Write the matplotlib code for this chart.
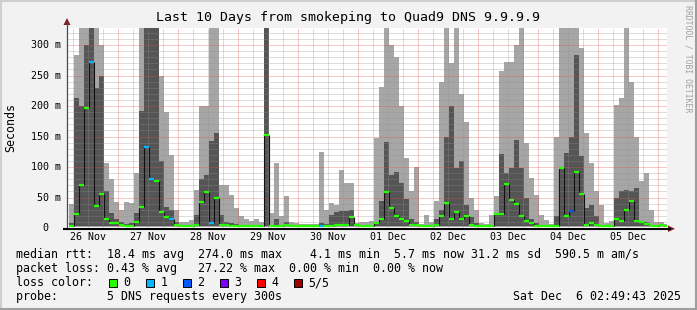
import numpy as np
import matplotlib.pyplot as plt
from matplotlib.patches import Rectangle, Polygon
from matplotlib.lines import Line2D

plt.rcParams['font.family'] = ['DejaVu Sans Mono']

W, H = 697, 310

# 2-hour bins from 26 Nov 02:49 to 06 Dec 02:49, values in ms (one row per day)
smoke_max = [
    40, 283, 340, 340, 340, 340, 300, 107, 80, 42, 30, 42,
    41, 90, 340, 340, 340, 340, 250, 190, 120, 30, 10, 10,
    13, 62, 200, 200, 340, 340, 70, 70, 54, 33, 20, 15,
    12, 15, 10, 340, 25, 107, 20, 52, 10, 8, 6, 6,
    6, 6, 124, 30, 41, 38, 95, 74, 74, 8, 10, 10,
    11, 147, 231, 340, 300, 280, 200, 115, 60, 100, 6, 22,
    10, 44, 240, 340, 270, 340, 220, 174, 49, 30, 8, 6,
    22, 52, 257, 273, 272, 300, 340, 139, 82, 54, 22, 13,
    6, 150, 340, 340, 340, 340, 295, 155, 106, 60, 37, 8,
    12, 201, 213, 340, 240, 150, 77, 90, 29, 10, 10, 6,
]
smoke_core = [
    8, 213, 200, 300, 340, 230, 250, 60, 25, 15, 10, 6,
    8, 25, 192, 340, 340, 340, 110, 34, 30, 10, 5, 5,
    5, 22, 80, 87, 142, 155, 22, 10, 8, 6, 5, 5,
    5, 5, 5, 340, 5, 14, 5, 10, 5, 5, 4, 4,
    4, 4, 8, 6, 22, 27, 28, 28, 29, 5, 5, 5,
    5, 10, 44, 141, 87, 92, 74, 48, 15, 10, 4, 5,
    5, 15, 30, 150, 200, 98, 110, 37, 18, 8, 5, 4,
    5, 24, 121, 90, 98, 144, 98, 49, 15, 8, 5, 5,
    4, 20, 98, 123, 150, 283, 118, 33, 37, 20, 5, 4,
    5, 50, 60, 62, 60, 65, 10, 10, 5, 5, 5, 4,
]
median_rtt = [
    4, 23, 70, 197, 273, 36, 55, 15, 8, 8, 5, 4,
    4, 10, 34, 133, 80, 77, 27, 18, 15, 5, 4, 4,
    4, 5, 43, 59, 8, 49, 5, 5, 4, 4, 4, 4,
    4, 4, 4, 152, 4, 4, 4, 5, 4, 4, 4, 4,
    4, 4, 3, 4, 4, 5, 5, 5, 18, 5, 4, 4,
    4, 8, 15, 59, 33, 20, 15, 11, 5, 5, 4, 4,
    4, 5, 20, 41, 15, 27, 15, 20, 5, 4, 4, 4,
    4, 23, 23, 72, 46, 39, 20, 11, 8, 4, 4, 4,
    4, 4, 98, 20, 28, 92, 56, 5, 8, 5, 4, 4,
    4, 15, 11, 29, 44, 11, 10, 6, 4, 4, 5, 4,
]
loss_pings = [
    0, 0, 0, 0, 1, 0, 0, 0, 0, 0, 0, 0,
    0, 0, 0, 1, 1, 0, 0, 0, 1, 0, 0, 0,
    0, 0, 0, 0, 1, 0, 0, 0, 0, 0, 0, 0,
    0, 0, 0, 0, 0, 0, 0, 0, 0, 0, 0, 0,
    0, 0, 1, 0, 0, 0, 0, 0, 0, 0, 0, 0,
    0, 0, 0, 0, 0, 0, 0, 0, 0, 0, 0, 0,
    0, 0, 0, 0, 0, 0, 0, 0, 0, 0, 0, 0,
    0, 0, 0, 0, 0, 0, 0, 0, 0, 0, 0, 0,
    0, 0, 0, 0, 2, 0, 0, 0, 0, 0, 0, 0,
    0, 0, 0, 0, 0, 0, 0, 0, 0, 0, 0, 0,
]

day_labels = ["26 Nov", "27 Nov", "28 Nov", "29 Nov", "30 Nov",
              "01 Dec", "02 Dec", "03 Dec", "04 Dec", "05 Dec"]
y_ticks = [0, 50, 100, 150, 200, 250, 300]
y_tick_labels = ["0  ", "50 m", "100 m", "150 m", "200 m", "250 m", "300 m"]

loss_colors = ["#26ff00", "#00b8ff", "#0059ff", "#7e00ff", "#ff0000", "#a10000"]
loss_names = ["0", "1", "2", "3", "4", "5/5"]

stats_rows = [
    "median rtt:  18.4 ms avg  274.0 ms max    4.1 ms min  5.7 ms now 31.2 ms sd  590.5 m am/s",
    "packet loss: 0.43 % avg   27.22 % max  0.00 % min  0.00 % now",
]
probe_text = "probe:       5 DNS requests every 300s"
stamp_text = "Sat Dec  6 02:49:43 2025"

# plot geometry in pixels
X0, X1, Y0, Y1 = 67, 667, 228, 28
T_SPAN = 240.0
Y_MAX = 328.0


def fx(x):
    return x / W


def fy(y):
    return 1 - y / H


fig = plt.figure(figsize=(W / 100, H / 100), dpi=100, facecolor="#f2f2f2")
ax = fig.add_axes([fx(X0), fy(Y0), (X1 - X0) / W, (Y0 - Y1) / H])
ax.set_facecolor("white")
for s in ax.spines.values():
    s.set_visible(False)
ax.tick_params(length=0, labelbottom=False, labelleft=False)
ax.set_xlim(0, T_SPAN)
ax.set_ylim(0, Y_MAX)

t = 0.8 + 2 * np.arange(len(smoke_max))

# smoke
ax.bar(t, np.array(smoke_max) - 2, bottom=2, width=2, align="edge",
       color="#a6a6a6", linewidth=0, zorder=1)
ax.bar(t, np.array(smoke_core) - 3, bottom=3, width=2, align="edge",
       color="#555555", linewidth=0, zorder=2)

# grid (drawn over the smoke, like rrdtool)
minor_t = np.arange(2.5, T_SPAN, 6)
major_t = np.arange(20.5, T_SPAN, 24)
for x in minor_t:
    if not np.any(np.isclose(major_t, x)):
        ax.axvline(x, color="#8f8f8f", alpha=0.6, lw=0.72, ls=(0, (1, 1)), zorder=3)
for y in range(10, int(Y_MAX), 10):
    if y % 50:
        ax.axhline(y, color="#8f8f8f", alpha=0.6, lw=0.72, ls=(0, (1, 1)), zorder=3)
for x in major_t:
    ax.axvline(x, color="#de4f4f", alpha=0.6, lw=0.72, ls=(0, (1, 1)), zorder=3)
for y in y_ticks[1:]:
    ax.axhline(y, color="#de4f4f", alpha=0.6, lw=0.72, ls=(0, (1, 1)), zorder=3)

# median line coloured by loss
med = np.array(median_rtt)
ax.vlines(t[1:], np.minimum(med[:-1], med[1:]), np.maximum(med[:-1], med[1:]),
          colors="#111111", lw=0.8, zorder=5)
for ti, m, lp in zip(t, median_rtt, loss_pings):
    ax.hlines(m, ti, ti + 2, colors=loss_colors[lp], lw=1.6, zorder=6)

# axes lines and arrows
fig.add_artist(Line2D([fx(X0), fx(X0)], [fy(Y0 + 1), fy(22)], color="#4a4a4a", lw=0.9))
fig.add_artist(Polygon([(fx(X0 - 3.5), fy(25)), (fx(X0 + 3.5), fy(25)), (fx(X0), fy(18))],
                       closed=True, color="#801f1f", lw=0))
fig.add_artist(Line2D([fx(X0 - 3), fx(X1 + 3)], [fy(228.8), fy(228.8)], color="black", lw=1.5))
fig.add_artist(Polygon([(fx(X1 + 1), fy(225.5)), (fx(X1 + 1), fy(232)), (fx(X1 + 8), fy(228.8))],
                       closed=True, color="#801f1f", lw=0))

# tick labels
for k, lab in enumerate(day_labels):
    x = X0 + (8.5 + 24 * k) / T_SPAN * (X1 - X0)
    fig.text(fx(x), fy(237.5), lab, ha="center", va="center", fontsize=7.2)
for v, lab in zip(y_ticks, y_tick_labels):
    y = Y0 - v / Y_MAX * (Y0 - Y1)
    fig.text(fx(60.5), fy(y), lab, ha="right", va="center", fontsize=7.2)

# titles
fig.text(0.5, fy(18), "Last 10 Days from smokeping to Quad9 DNS 9.9.9.9",
         ha="center", va="center", fontsize=9.5)
fig.text(fx(10.5), fy(128), "Seconds", rotation=90, ha="center", va="center", fontsize=8.4)
fig.text(fx(688), fy(59), "RRDTOOL / TOBI OETIKER", rotation=270, ha="center", va="center",
         fontsize=5.9, color="#a0a0a0")

# legend rows
fig.text(fx(16), fy(254.5), stats_rows[0], ha="left", va="center", fontsize=8.4)
fig.text(fx(16), fy(268.5), stats_rows[1], ha="left", va="center", fontsize=8.4)
fig.text(fx(16), fy(282.5), "loss color:", ha="left", va="center", fontsize=8.4)
sq_x = [108.5, 145.5, 182.5, 219.5, 256.5, 293.5]
for x, c, name in zip(sq_x, loss_colors, loss_names):
    fig.add_artist(Rectangle((fx(x), fy(286.5)), 8 / W, 8 / H, facecolor=c,
                             edgecolor="black", lw=0.7))
    fig.text(fx(x + 15), fy(282.5), name, ha="left", va="center", fontsize=8.4)
fig.text(fx(16), fy(296.5), probe_text, ha="left", va="center", fontsize=8.4)
fig.text(fx(681), fy(296.5), stamp_text, ha="right", va="center", fontsize=8.4)

# 3d frame
fig.add_artist(Line2D([0, 1], [fy(0.75), fy(0.75)], color="#cfcfcf", lw=1.5))
fig.add_artist(Line2D([fx(0.75), fx(0.75)], [0, 1], color="#cfcfcf", lw=1.5))
fig.add_artist(Line2D([0, 1], [fy(H - 1), fy(H - 1)], color="#9e9e9e", lw=1.5))
fig.add_artist(Line2D([fx(W - 1), fx(W - 1)], [0, 1], color="#9e9e9e", lw=1.5))

fig.savefig("out.png", dpi=100, facecolor=fig.get_facecolor())
